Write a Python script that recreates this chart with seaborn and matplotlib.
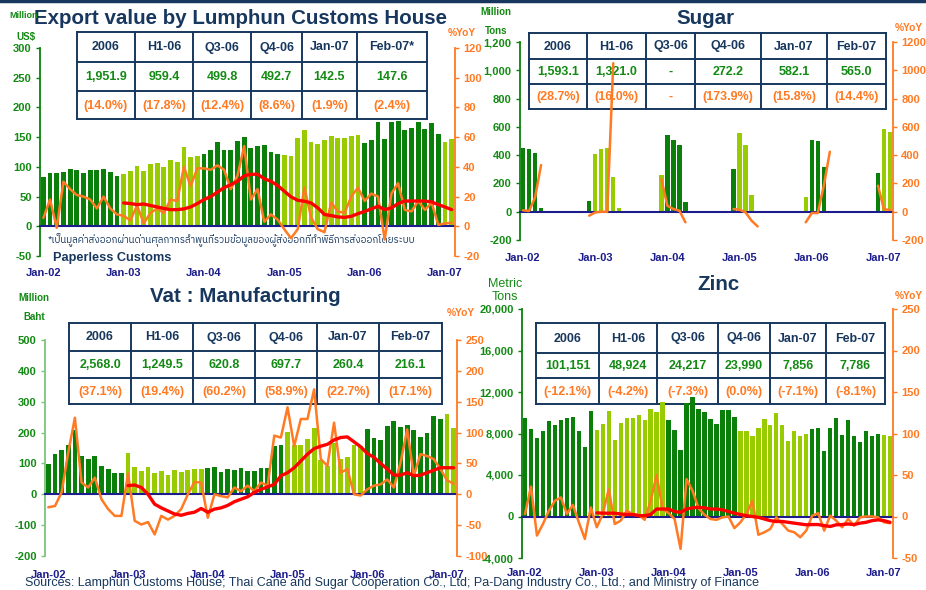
"""
plot.py - Lamphun economic indicators, four panel chart
(export value, sugar, VAT manufacturing, zinc)
"""

import numpy as np
import pandas as pd
import matplotlib
matplotlib.use("Agg")
import matplotlib.pyplot as plt
from matplotlib import font_manager, transforms
from matplotlib.patches import Rectangle
from matplotlib.ticker import FuncFormatter
import seaborn as sns

# -----------------------------
# Data  (monthly, Jan-02 .. Feb-07)
# -----------------------------
month_names = ["Jan", "Feb", "Mar", "Apr", "May", "Jun",
               "Jul", "Aug", "Sep", "Oct", "Nov", "Dec"]
months = [f"{m}-{y}" for y in ["02", "03", "04", "05", "06"] for m in month_names] + ["Jan-07", "Feb-07"]
x_labels = ["Jan-02", "Jan-03", "Jan-04", "Jan-05", "Jan-06", "Jan-07"]

export_value = [83, 90, 90, 91, 96, 95, 90, 95, 94, 96, 91, 85,
                88, 93, 102, 93, 104, 107, 100, 112, 109, 133, 116, 118,
                122, 128, 142, 128, 128, 143, 150, 131, 135, 136, 125, 121,
                120, 119, 148, 162, 142, 138, 145, 152, 149, 149, 152, 154,
                140, 145, 175, 147, 176, 178, 162, 165, 175, 164, 174, 155,
                142.5, 147.6]
export_yoy = [5.6, 18, -1, 30, 25, 21, 20, 18, 12, 20, 12, 8,
              7, 4, 14, 2, 9, 12, 9, 18, 17, 40, 27, 39,
              39, 38, 41, 38, 25, 34, 54, 18, 25, 3, 8, 4.5,
              -2, -8, -2, 26, 6, -2, -4, 16, 10, 9, 20, 26,
              17, 22, 20, -9, 22, 29, 11, 10, 17, 11, 16, 1,
              1.9, 2.4]
export_trend = [np.nan] * 12 + [
    15.7, 15.3, 14.6, 15, 14, 13, 12, 11.2, 11.2, 11.7,
    13, 15.3, 18, 20, 23, 26, 28, 30.3, 34, 35,
    35, 32, 30.3, 27.4, 23.6, 19.8, 17.5, 16.9, 15.7, 12.4,
    7.9, 7.2, 6.3, 6, 6.7, 8.5, 10, 11.7, 13.5, 11.2,
    12.4, 15.3, 17, 17, 17, 17, 16.4, 14.6, 13, 11.2]

sugar_value = [447, 442, 414, 24, 0, 0, 0, 0, 0, 0, 0, 78,
               407, 442, 447, 242, 26, 0, 0, 0, 0, 0, 0, 259,
               541, 506, 475, 66, 0, 0, 0, 0, 0, 0, 0, 301,
               560, 475, 118, 5, 0, 0, 0, 0, 0, 0, 0, 101,
               505, 497, 314, 5, 0, 0, 0, 0, 0, 0, 0, 272,
               582.1, 565.0]
n = np.nan
sugar_yoy = [10, 5, 100, 330, n, n, n, n, n, n, n, -28,
             -5, 0, 0, 1050, n, n, n, n, n, n, n, 230,
             42, 19, 7, -75, n, n, n, n, n, n, n, 19,
             14, -5, -64, -104, n, n, n, n, n, n, n, -75,
             -9, -9, 184, 424, n, n, n, n, n, n, n, 184,
             16, 14]

vat_value = [97, 130, 143, 161, 208, 123, 113, 123, 93, 81, 68, 70,
             133, 87, 77, 90, 70, 77, 64, 78, 71, 78, 81, 83,
             85, 90, 71, 83, 80, 84, 77, 76, 85, 85, 155, 161,
             203, 159, 160, 180, 214, 110, 92, 165, 114, 121, 159, 155,
             213, 184, 177, 222, 237, 217, 226, 209, 187, 200, 253, 245,
             260.4, 216.1]
vat_yoy = [-21, -19, 3, 68, 124, 19, 11, 27, -8, -24, -35, -35,
           34, -43, -49, -45, -65, -35, -41, -35, -24, 0, 20, 19,
           -38, 0, -3, -5, 11, 5, 14, 5, 19, 14, 95, 92,
           141, 78, 122, 122, 170, 57, 46, 116, 35, 41, 0, -2,
           8, 14, 16, 24, 11, 51, 105, 30, 65, 62, 57, 41,
           22.7, 17.1]
vat_trend = [np.nan] * 12 + [
    14, 15, 11, 0, -16, -22, -27, -32, -34, -31,
    -29, -23, -29, -24, -22, -18, -12, -8, -4, 3,
    8, 12, 16, 30, 35, 43, 54, 65, 74, 78,
    81, 88, 92, 93, 85, 77, 66, 60, 50, 41,
    31, 31, 35, 30, 31, 35, 39, 43, 43, 43]

zinc_value = [9531, 8404, 7567, 8211, 9177, 8791, 9274, 9467, 9628, 8275, 6665, 10175,
              8308, 8952, 10175, 7342, 9048, 9467, 9531, 9821, 9338, 10401, 10046, 11012,
              9290, 8323, 6387, 10903, 11548, 10323, 10097, 9387, 8871, 10258, 10258, 9613,
              8258, 8258, 7742, 8548, 9387, 8839, 9935, 8839, 7258, 8258, 7742, 8000,
              8387, 8484, 6290, 8484, 9452, 7827, 9258, 7742, 7217, 8258, 7742, 7990,
              7856, 7786]
zinc_yoy = [3, 36, -23, -9, 7, 19, 23, 3, 14, -7, -27, 11,
            -13, 3, 33, -9, -5, 7, 3, 2, -4, 19, 50, 9,
            4, -3, -39, 45, 31, 10, 2, -3, -4, -1, 0, -14,
            -7, 3, 19, -22, -19, -15, -1, -9, -17, -19, -25, -17,
            1, 4, -17, 1, -5, -13, -3, -11, -1, 0, 0, -1,
            -7.1, -8.1]
zinc_trend = [np.nan] * 12 + [
    4.4, 4, 4, 4, 3, 2.4, 2.4, 1, 1, 2.4,
    9, 9, 9, 6, 5, 9, 10.5, 11, 10.5, 9,
    9, 8, 6, 4, 2.4, 1, 0, -1, -3, -5,
    -6, -6, -7, -8, -9, -10, -9.7, -9.7, -11, -12,
    -10, -9.7, -9, -9.7, -8, -7, -5, -4, -5, -7]

table_head = ["2006", "H1-06", "Q3-06", "Q4-06", "Jan-07", "Feb-07"]
export_tab = [["2006", "H1-06", "Q3-06", "Q4-06", "Jan-07", "Feb-07*"],
              ["1,951.9", "959.4", "499.8", "492.7", "142.5", "147.6"],
              ["(14.0%)", "(17.8%)", "(12.4%)", "(8.6%)", "(1.9%)", "(2.4%)"]]
sugar_tab = [table_head,
             ["1,593.1", "1,321.0", "-", "272.2", "582.1", "565.0"],
             ["(28.7%)", "(16.0%)", "-", "(173.9%)", "(15.8%)", "(14.4%)"]]
vat_tab = [table_head,
           ["2,568.0", "1,249.5", "620.8", "697.7", "260.4", "216.1"],
           ["(37.1%)", "(19.4%)", "(60.2%)", "(58.9%)", "(22.7%)", "(17.1%)"]]
zinc_tab = [table_head,
            ["101,151", "48,924", "24,217", "23,990", "7,856", "7,786"],
            ["(-12.1%)", "(-4.2%)", "(-7.3%)", "(0.0%)", "(-7.1%)", "(-8.1%)"]]

thai_note = "*เป็นมูลค่าส่งออกผ่านด่านศุลกากรลำพูนที่รวมข้อมูลของผู้ส่งออกที่ทำพิธีการส่งออกโดยระบบ"
sources = ("Sources: Lamphun Customs House; Thai Cane and Sugar Cooperation Co., Ltd; "
           "Pa-Dang Industry Co., Ltd.; and Ministry of Finance")

# -----------------------------
# Style
# -----------------------------
W, H = 926, 590
DARK = "#0a800a"
LIGHT = "#99cc00"
ORANGE = "#ff7a22"
RED = "#ff0000"
NAVY = "#17375e"
AXIS_NAVY = "#1c1c8c"
GREEN_TXT = "#138a13"

sns.set_style("white")
thai_fonts = sorted({f.name for f in font_manager.fontManager.ttflist
                     if "Thai" in f.name or f.name in ("Loma", "Garuda", "Norasi", "Kinnari")})
plt.rcParams["font.family"] = ["Liberation Sans", "DejaVu Sans"]
plt.rcParams["font.weight"] = "bold"

shade = ["dark" if int(m[-2:]) % 2 == 0 else "light" for m in months]

fig = plt.figure(figsize=(W / 100, H / 100), dpi=100)
fig.patch.set_facecolor("white")

# overlay in pixel coordinates for titles, tables and notes
ov = fig.add_axes([0, 0, 1, 1])
ov.set_xlim(0, W)
ov.set_ylim(H, 0)
ov.axis("off")


def fmt_comma(v, _):
    return f"{int(v):,}"


def fmt_plain(v, _):
    return f"{int(v)}"


def draw_panel(box, values, yoy, trend, lim1, step1, lim2, step2, fmt1, label_y,
               spine_color=DARK):
    left, top, right, bottom = box
    ax = fig.add_axes([left / W, 1 - bottom / H, (right - left) / W, (bottom - top) / H])
    ax.patch.set_visible(False)

    df = pd.DataFrame({"month": months, "value": values, "shade": shade})
    sns.barplot(data=df, x="month", y="value", hue="shade", order=months,
                palette={"dark": DARK, "light": LIGHT}, dodge=False, width=0.72,
                saturation=1, errorbar=None, legend=False, linewidth=0, ax=ax)

    ax2 = ax.twinx()
    ax2.patch.set_visible(False)
    ldf = pd.DataFrame({"x": np.arange(len(months)), "yoy": yoy, "trend": trend})
    ldf["seg"] = ldf["yoy"].isna().cumsum()
    sns.lineplot(data=ldf.dropna(subset=["yoy"]), x="x", y="yoy", units="seg",
                 estimator=None, color=ORANGE, lw=1.8, ax=ax2)
    if ldf["trend"].notna().any():
        sns.lineplot(data=ldf.dropna(subset=["trend"]), x="x", y="trend",
                     estimator=None, color=RED, lw=2.4, ax=ax2)

    for a in (ax, ax2):
        a.set_xlim(-0.5, len(months) - 0.5)
        a.set_xlabel("")
        a.set_ylabel("")
    ax.set_ylim(*lim1)
    ax2.set_ylim(*lim2)
    ax.set_yticks(np.arange(lim1[0], lim1[1] + 1, step1))
    ax2.set_yticks(np.arange(lim2[0], lim2[1] + 1, step2))
    ax.yaxis.set_major_formatter(FuncFormatter(fmt1))
    ax2.yaxis.set_major_formatter(FuncFormatter(fmt_plain))

    ax.set_xticks(np.arange(-0.5, len(months) - 1, 6))
    ax.set_xticklabels([])
    ax.tick_params(axis="x", direction="inout", length=6, width=1.2, color=AXIS_NAVY)
    ax.tick_params(axis="y", direction="out", length=3, width=1, color=spine_color,
                   labelcolor=GREEN_TXT, labelsize=8, pad=3, left=True)
    ax2.tick_params(axis="y", direction="out", length=3, width=1, color=ORANGE,
                    labelcolor=ORANGE, labelsize=8, pad=3, right=True)

    ax.spines["top"].set_visible(False)
    ax.spines["right"].set_visible(False)
    ax.spines["left"].set_color(spine_color)
    ax.spines["left"].set_linewidth(1.3)
    ax.spines["bottom"].set_position(("data", 0))
    ax.spines["bottom"].set_color(AXIS_NAVY)
    ax.spines["bottom"].set_linewidth(1.5)
    for s in ("top", "left", "bottom"):
        ax2.spines[s].set_visible(False)
    ax2.spines["right"].set_color(ORANGE)
    ax2.spines["right"].set_linewidth(1.3)

    trans = transforms.blended_transform_factory(ax.transData, ax.transAxes)
    for lbl in x_labels:
        ax.text(months.index(lbl), -(label_y - bottom) / (bottom - top), lbl,
                transform=trans, ha="center", va="center", color=AXIS_NAVY,
                fontsize=8, fontweight="bold", clip_on=False)
    return ax


def draw_table(xs, ys, rows):
    ov.add_patch(Rectangle((xs[0], ys[0]), xs[-1] - xs[0], ys[-1] - ys[0],
                           facecolor="white", edgecolor="none"))
    for x in xs:
        ov.plot([x, x], [ys[0], ys[-1]], color=NAVY, lw=1.4, solid_capstyle="projecting")
    for y in ys:
        ov.plot([xs[0], xs[-1]], [y, y], color=NAVY, lw=1.4, solid_capstyle="projecting")
    for r, (row, c) in enumerate(zip(rows, [NAVY, GREEN_TXT, ORANGE])):
        for k, txt in enumerate(row):
            ov.text((xs[k] + xs[k + 1]) / 2, (ys[r] + ys[r + 1]) / 2 + 0.5, txt,
                    ha="center", va="center", color=c, fontsize=9, fontweight="bold")


# -----------------------------
# Tables and texts (drawn under the data axes)
# -----------------------------
ov.plot([0, W], [1, 1], color=NAVY, lw=2.5)

draw_table([77, 135, 193, 251, 302, 357, 427], [32, 62, 91, 119], export_tab)
draw_table([529, 587, 646, 695, 761, 827, 886], [33, 59, 84, 109], sugar_tab)
draw_table([69, 131, 193, 255, 317, 379, 442], [323, 351, 378, 404], vat_tab)
draw_table([536, 599, 657, 718, 770, 826, 885], [323, 353, 378, 404], zinc_tab)

title_kw = dict(ha="center", va="center", color=NAVY, fontsize=14.8, fontweight="bold")
ov.text(240, 18, "Export value by Lumphun Customs House", **title_kw)
ov.text(705, 18, "Sugar", **title_kw)
ov.text(245, 297, "Vat : Manufacturing", **title_kw)
ov.text(719, 284, "Zinc", **title_kw)

unit_kw = dict(ha="left", va="center", color=GREEN_TXT, fontsize=7, fontweight="bold")
ov.text(9, 15, "Million", **dict(unit_kw, fontsize=6.5))
ov.text(16, 37, "US$", **unit_kw)
ov.text(480, 12, "Million", **unit_kw)
ov.text(485, 31, "Tons", **unit_kw)
ov.text(18, 298, "Million", **unit_kw)
ov.text(23, 317, "Baht", **unit_kw)
ov.text(488, 284, "Metric", **dict(unit_kw, fontsize=9, fontweight="normal"))
ov.text(492, 297, "Tons", **dict(unit_kw, fontsize=9, fontweight="normal"))

yoy_kw = dict(ha="left", va="center", color=ORANGE, fontsize=7.4, fontweight="bold")
ov.text(448, 33, "%YoY", **yoy_kw)
ov.text(895, 28, "%YoY", **yoy_kw)
ov.text(447, 313, "%YoY", **yoy_kw)
ov.text(895, 296, "%YoY", **yoy_kw)

ov.text(48, 240, thai_note, ha="left", va="center", color=NAVY, fontsize=7,
        fontweight="normal", family=thai_fonts + ["DejaVu Sans"])
ov.text(53, 258, "Paperless Customs", ha="left", va="center", color=NAVY,
        fontsize=9.2, fontweight="bold")

# -----------------------------
# Panels
# -----------------------------
draw_panel((40, 48, 455, 256), export_value, export_yoy, export_trend,
           (-50, 300), 50, (-20, 120), 20, fmt_plain, 273)
draw_panel((520, 42, 893, 240), sugar_value, sugar_yoy, [np.nan] * len(months),
           (-200, 1200), 200, (-200, 1200), 200, fmt_comma, 258)
draw_panel((45, 340, 457, 556), vat_value, vat_yoy, vat_trend,
           (-200, 500), 100, (-100, 250), 50, fmt_plain, 575, spine_color="#7cc47c")
draw_panel((522, 309, 893, 558), zinc_value, zinc_yoy, zinc_trend,
           (-4000, 20000), 4000, (-50, 250), 50, fmt_comma, 573)

fig.text(25 / W, 1 - 583 / H, sources, ha="left", va="center", color=NAVY,
         fontsize=9, fontweight="normal")

fig.savefig("out.png", dpi=100)
